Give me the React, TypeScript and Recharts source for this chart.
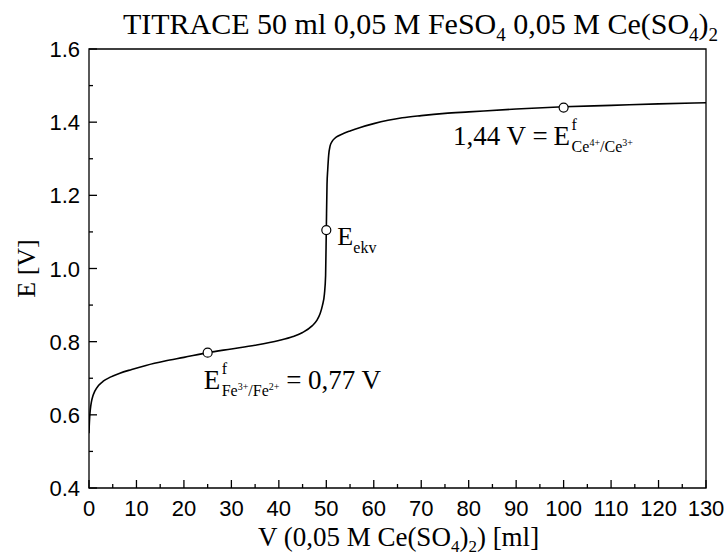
import React from "react";
import { ComposedChart, Line, XAxis, YAxis, ReferenceDot, ReferenceArea } from "recharts";

// titration curve
const volume = [0, 0.05, 0.15, 0.3, 0.5, 0.8, 1.2, 2, 3, 4.5, 6.5, 9, 12, 16, 20, 25, 30, 35, 40, 43, 45, 47, 48, 48.7, 49.2, 49.6, 49.85, 50, 50.15, 50.3, 50.5, 50.8, 51.2, 51.8, 52.6, 53.6, 55, 57, 60, 63, 66, 70, 75, 80, 90, 100, 110, 120, 130];
const potential = [0.55, 0.57, 0.595, 0.617, 0.635, 0.651, 0.664, 0.68, 0.692, 0.703, 0.714, 0.724, 0.735, 0.747, 0.757, 0.77, 0.78, 0.79, 0.803, 0.814, 0.825, 0.843, 0.858, 0.877, 0.9, 0.93, 0.98, 1.105, 1.23, 1.27, 1.31, 1.335, 1.347, 1.356, 1.363, 1.369, 1.376, 1.385, 1.396, 1.405, 1.412, 1.418, 1.424, 1.428, 1.436, 1.442, 1.446, 1.45, 1.453];

const markerV = [25, 50, 100];
const markerE = [0.77, 1.105, 1.44];

const xTicks = [0, 5, 10, 15, 20, 25, 30, 35, 40, 45, 50, 55, 60, 65, 70, 75, 80, 85, 90, 95, 100, 105, 110, 115, 120, 125, 130];
const yTicks = [0.4, 0.5, 0.6, 0.7, 0.8, 0.9, 1.0, 1.1, 1.2, 1.3, 1.4, 1.5, 1.6];

const data = volume.map((v, i) => ({ v, e: potential[i] }));

const SERIF = "'Liberation Serif', 'Times New Roman', serif";
const SANS = "'Liberation Sans', Arial, sans-serif";

const XTick = ({ x, y, payload }: any) => {
  const major = payload.value % 10 === 0;
  return (
    <g>
      <line x1={x} x2={x} y1={y} y2={y - (major ? 8 : 4)} stroke="#000" strokeWidth={1.3} />
      {major && (
        <text x={x} y={y + 28} textAnchor="middle" fontFamily={SANS} fontSize={22} fill="#000">
          {payload.value}
        </text>
      )}
    </g>
  );
};

const YTick = ({ x, y, payload }: any) => {
  const major = Math.round(payload.value * 10) % 2 === 0;
  return (
    <g>
      <line x1={x} x2={x + (major ? 8 : 4)} y1={y} y2={y} stroke="#000" strokeWidth={1.3} />
      {major && (
        <text x={x - 9} y={y + 8} textAnchor="end" fontFamily={SANS} fontSize={22} fill="#000">
          {payload.value.toFixed(1)}
        </text>
      )}
    </g>
  );
};

const center = (vb: any) => ({ cx: vb.x + vb.width / 2, cy: vb.y + vb.height / 2 });

const FeLabel = (props: any) => {
  const { cx, cy } = center(props.viewBox);
  const x = cx - 4;
  const base = cy + 36;
  return (
    <g fontFamily={SERIF} fill="#000">
      <text x={x} y={base} fontSize={27}>E</text>
      <text x={x + 18} y={base - 15} fontSize={16}>f</text>
      <text x={x + 18} y={base + 7} fontSize={16}>
        Fe<tspan dy={-6} fontSize={10}>3+</tspan>
        <tspan dy={6}>/Fe</tspan>
        <tspan dy={-6} fontSize={10}>2+</tspan>
        <tspan dy={-1} fontSize={27}> = 0,77 V</tspan>
      </text>
    </g>
  );
};

const EkvLabel = (props: any) => {
  const { cx, cy } = center(props.viewBox);
  return (
    <g fontFamily={SERIF} fill="#000">
      <text x={cx + 11} y={cy + 15} fontSize={26}>E</text>
      <text x={cx + 27} y={cy + 23} fontSize={16}>ekv</text>
    </g>
  );
};

const CeLabel = (props: any) => {
  const { cx, cy } = center(props.viewBox);
  const x = cx - 10;
  const base = cy + 37;
  return (
    <g fontFamily={SERIF} fill="#000">
      <text x={x - 6} y={base} fontSize={27} textAnchor="end">1,44 V =</text>
      <text x={x} y={base} fontSize={27}>E</text>
      <text x={x + 18} y={base - 15} fontSize={16}>f</text>
      <text x={x + 18} y={base + 7} fontSize={16}>
        Ce<tspan dy={-6} fontSize={10}>4+</tspan>
        <tspan dy={6}>/Ce</tspan>
        <tspan dy={-6} fontSize={10}>3+</tspan>
      </text>
    </g>
  );
};

const labelComponents = [FeLabel, EkvLabel, CeLabel];

const TitleLabel = (props: any) => {
  const vb = props.viewBox;
  return (
    <text x={vb.x + vb.width / 2 + 23} y={vb.y - 15} textAnchor="middle" fontFamily={SERIF} fontSize={30} fill="#000">
      TITRACE 50 ml 0,05 M FeSO<tspan dy={7} fontSize={19}>4</tspan>
      <tspan dy={-7}> 0,05 M Ce(SO</tspan>
      <tspan dy={7} fontSize={19}>4</tspan>
      <tspan dy={-7}>)</tspan>
      <tspan dy={7} fontSize={19}>2</tspan>
    </text>
  );
};

const XLabel = (props: any) => {
  const vb = props.viewBox;
  return (
    <text x={vb.x + vb.width / 2 + 1} y={vb.y + 58} textAnchor="middle" fontFamily={SERIF} fontSize={27} fill="#000">
      V (0,05 M Ce(SO<tspan dy={6} fontSize={17}>4</tspan>
      <tspan dy={-6}>)</tspan>
      <tspan dy={6} fontSize={17}>2</tspan>
      <tspan dy={-6}>) [ml]</tspan>
    </text>
  );
};

const YLabel = (props: any) => {
  const vb = props.viewBox;
  const cy = vb.y + vb.height / 2;
  return (
    <text x={35} y={cy} transform={`rotate(-90, 35, ${cy})`} textAnchor="middle" fontFamily={SERIF} fontSize={26} fill="#000">
      E [V]
    </text>
  );
};

export default function App() {
  return (
    <div style={{ position: "absolute", left: 0, top: 0, width: 728, height: 555, background: "#fff" }}>
      <ComposedChart width={728} height={555} data={data} margin={{ top: 49, right: 22, bottom: 27, left: 29 }}>
        <XAxis
          dataKey="v"
          type="number"
          domain={[0, 130]}
          ticks={xTicks}
          interval={0}
          allowDataOverflow
          axisLine={false}
          tickLine={false}
          tickSize={0}
          tickMargin={0}
          height={40}
          tick={<XTick />}
          label={XLabel}
        />
        <YAxis
          type="number"
          domain={[0.4, 1.6]}
          ticks={yTicks}
          interval={0}
          allowDataOverflow
          axisLine={false}
          tickLine={false}
          tickSize={0}
          tickMargin={0}
          width={60}
          tick={<YTick />}
          label={YLabel}
        />
        <ReferenceArea x1={0} x2={130} y1={0.4} y2={1.6} fill="none" stroke="#000" strokeWidth={1.3} label={TitleLabel} />
        <Line dataKey="e" type="monotone" stroke="#000" strokeWidth={1.6} dot={false} isAnimationActive={false} />
        {markerV.map((v, i) => (
          <ReferenceDot key={v} x={v} y={markerE[i]} r={4.5} fill="#fff" stroke="#000" strokeWidth={1.2} label={labelComponents[i]} />
        ))}
      </ComposedChart>
    </div>
  );
}
